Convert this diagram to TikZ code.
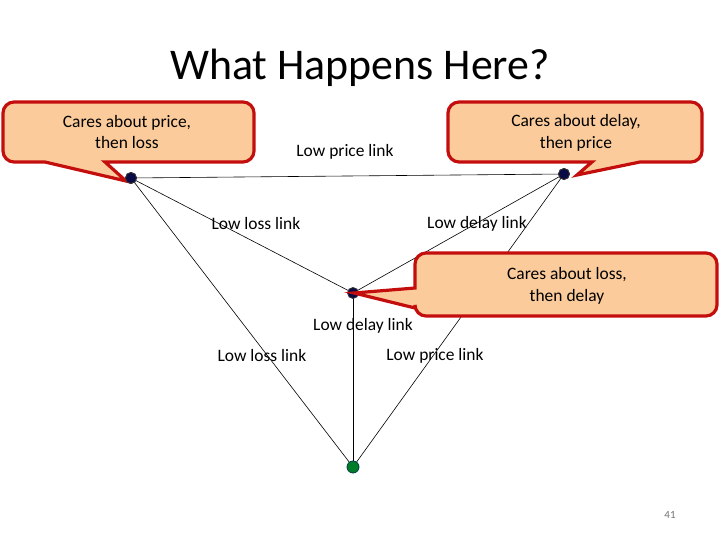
\documentclass[tikz,border=0pt]{standalone}
\usepackage{fontspec}
\setmainfont{Carlito}
\usetikzlibrary{backgrounds}
\begin{document}
\begin{tikzpicture}[x=1bp,y=-1bp,
  link/.style={draw=black,line width=0.6bp},
  dotnode/.style={circle,draw=black!80,line width=0.8bp,fill=navydot,minimum size=11bp,inner sep=0pt},
  greendot/.style={circle,draw=tealdark,line width=0.8bp,fill=greenfill,minimum size=12bp,inner sep=0pt},
  lbl/.style={font=\fontsize{17.5}{20}\selectfont,inner sep=0pt},
  callout/.style={draw=calloutred,fill=calloutfill,line width=3.2bp,line join=miter},
  callouttext/.style={font=\fontsize{17.5}{22}\selectfont,align=center,inner sep=0pt}
]
\definecolor{navydot}{RGB}{10,10,70}
\definecolor{greenfill}{RGB}{0,125,40}
\definecolor{tealdark}{RGB}{0,60,70}
\definecolor{calloutred}{RGB}{196,14,14}
\definecolor{calloutfill}{RGB}{251,203,155}
\useasboundingbox (0,0) rectangle (720,540);

% title
\node[font=\fontsize{44}{50}\selectfont,inner sep=0pt] (title) at (360,68) {What Happens Here?};

% graph nodes
\node[dotnode] (A) at (131,178) {};
\node[dotnode] (B) at (564,174) {};
\node[dotnode] (C) at (353,293) {};
\node[greendot] (D) at (353,467) {};

% links
\begin{scope}[on background layer]
\fill[white] (0,0) rectangle (720,540);
\draw[link] (A.center) -- (B.center);
\draw[link] (A.center) -- (C.center);
\draw[link] (A.center) -- (D.center);
\draw[link] (B.center) -- (C.center);
\draw[link] (B.center) -- (D.center);
\draw[link] (C.center) -- (D.center);
\end{scope}

% link labels
\node[lbl] (l1) at (345,152) {Low price link};
\node[lbl] (l2) at (256,224) {Low loss link};
\node[lbl] (l3) at (477,224) {Low delay link};
\node[lbl] (l4) at (363,326) {Low delay link};
\node[lbl] (l5) at (262,356) {Low loss link};
\node[lbl] (l6) at (435,356) {Low price link};

% callout 1 (top-left)
\draw[callout] (45,162) [rounded corners=11bp] -- (3,162) -- (3,102) -- (254,102) -- (254,162) [sharp corners] -- (105,162) -- (126,181) -- cycle;
\node[callouttext] (t1) at (127,132) {Cares about price,\\then loss};

% callout 2 (top-right)
\draw[callout] (640,162) [rounded corners=11bp] -- (702,162) -- (702,102) -- (448,102) -- (448,162) [sharp corners] -- (592,162) -- (577,175) -- cycle;
\node[callouttext] (t2) at (576,133) {Cares about delay,\\then price};

% redraw dots over callouts 1 and 2
\node[dotnode] at (A) {};
\node[dotnode] at (B) {};

% callout 3 (middle right)
\draw[callout] (415,308) [rounded corners=11bp] -- (415,316) -- (717,316) -- (717,253) -- (415,253) [sharp corners] -- (415,288) -- (354,293) -- cycle;
\node[callouttext] (t3) at (567,286) {Cares about loss,\\then delay};

% page number
\node[font=\fontsize{11}{13}\selectfont,text=black!55,inner sep=0pt] (pg) at (670,515) {41};
\end{tikzpicture}
\end{document}
